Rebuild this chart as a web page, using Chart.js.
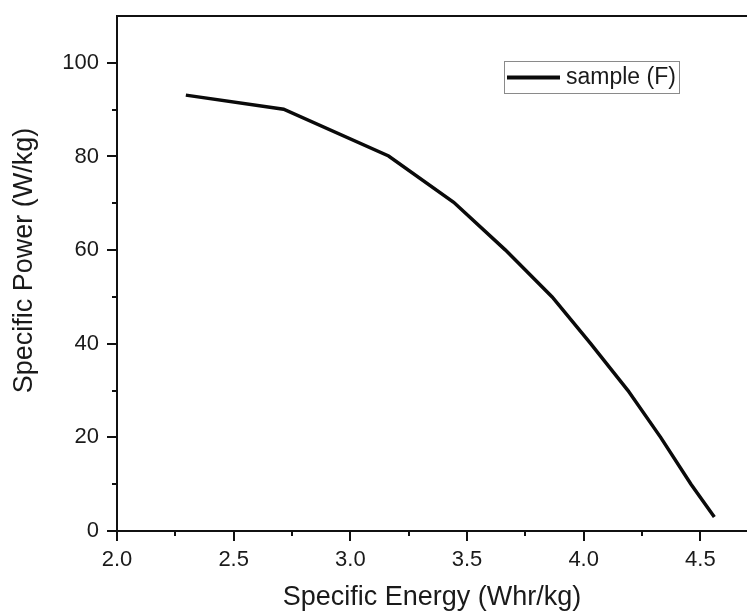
<!DOCTYPE html>
<html>
<head>
<meta charset="utf-8">
<script src="https://cdn.jsdelivr.net/npm/chart.js@4/dist/chart.umd.min.js"></script>
<style>
  html, body { margin: 0; padding: 0; background: #fff; }
  #wrap { width: 747px; height: 612px; position: relative; }
</style>
</head>
<body>
<div id="wrap"><canvas id="c" width="747" height="612"></canvas></div>
<script>
// ---- data ----
const seriesLabel = "sample (F)";
const energy = [2.295, 2.714, 3.164, 3.443, 3.665, 3.865, 4.03, 4.19, 4.33, 4.46, 4.56];
const power  = [93.1, 90.1, 80.1, 70.2, 60.0, 50.0, 40.0, 30.0, 20.0, 10.0, 3.0];
const xMajorTicks = [2.0, 2.5, 3.0, 3.5, 4.0, 4.5];
const xMinorTicks = [2.25, 2.75, 3.25, 3.75, 4.25];
const yMajorTicks = [0, 20, 40, 60, 80, 100];
const yMinorTicks = [10, 30, 50, 70, 90];
const xTitle = "Specific Energy (Whr/kg)";
const yTitle = "Specific Power (W/kg)";

const FONT = "'Liberation Sans', Arial, sans-serif";
const INK = "#1a1a1a";

const points = energy.map((e, i) => ({ x: e, y: power[i] }));

const frameTicks = {
  id: 'frameTicks',
  afterDraw(chart) {
    const { ctx, chartArea: a } = chart;
    const xs = chart.scales.x, ys = chart.scales.y;
    ctx.save();
    ctx.strokeStyle = '#111';
    ctx.lineWidth = 2;
    ctx.lineCap = 'butt';
    // top frame line
    ctx.beginPath();
    ctx.moveTo(a.left - 1, a.top);
    ctx.lineTo(a.right, a.top);
    ctx.stroke();
    // x ticks (outward, below)
    const drawX = (v, len) => {
      const px = Math.round(xs.getPixelForValue(v));
      ctx.beginPath(); ctx.moveTo(px, a.bottom); ctx.lineTo(px, a.bottom + len); ctx.stroke();
    };
    xMajorTicks.forEach(v => drawX(v, 10));
    xMinorTicks.forEach(v => drawX(v, 5));
    const drawY = (v, len) => {
      const py = Math.round(ys.getPixelForValue(v));
      ctx.beginPath(); ctx.moveTo(a.left, py); ctx.lineTo(a.left - len, py); ctx.stroke();
    };
    yMajorTicks.forEach(v => drawY(v, 10));
    yMinorTicks.forEach(v => drawY(v, 5));

    // y axis title (rotated), slightly above the axis centre as in the reference
    ctx.save();
    ctx.fillStyle = INK;
    ctx.font = "27px " + FONT;
    ctx.textAlign = 'center';
    ctx.textBaseline = 'middle';
    ctx.translate(a.left - 92, (a.top + a.bottom) / 2 - 13);
    ctx.rotate(-Math.PI / 2);
    ctx.fillText(yTitle, 0, 0);
    ctx.restore();

    // legend box
    const lx = a.right - 243, ly = a.top + 45, lw = 175, lh = 32;
    ctx.strokeStyle = '#8a8a8a';
    ctx.lineWidth = 1;
    ctx.strokeRect(lx + 0.5, ly + 0.5, lw, lh);
    const ds = chart.data.datasets[0];
    ctx.strokeStyle = ds.borderColor;
    ctx.lineWidth = 4;
    ctx.beginPath();
    ctx.moveTo(lx + 3, ly + 16.5);
    ctx.lineTo(lx + 56, ly + 16.5);
    ctx.stroke();
    ctx.fillStyle = INK;
    ctx.font = "23px " + FONT;
    ctx.textBaseline = 'middle';
    ctx.textAlign = 'left';
    ctx.fillText(ds.label, lx + 62, ly + 17);
    ctx.restore();
  }
};

new Chart(document.getElementById('c'), {
  type: 'line',
  data: {
    datasets: [{
      label: seriesLabel,
      data: points,
      borderColor: '#0a0a0a',
      borderWidth: 3.5,
      pointRadius: 0,
      tension: 0,
      fill: false
    }]
  },
  options: {
    responsive: false,
    animation: false,
    layout: { padding: { top: 16, right: 0, bottom: 0, left: 0 } },
    plugins: { legend: { display: false }, tooltip: { enabled: false } },
    scales: {
      x: {
        type: 'linear',
        min: 2.0, max: 4.7,
        afterBuildTicks(s) { s.ticks = xMajorTicks.map(v => ({ value: v })); },
        afterFit(s) { s.height = 81; s.paddingRight = 0; },
        grid: { display: false, drawTicks: false },
        border: { display: true, color: '#111', width: 2 },
        ticks: {
          color: INK, padding: 16,
          font: { family: FONT, size: 22 },
          maxRotation: 0, autoSkip: false,
          callback: v => Number(v).toFixed(1)
        },
        title: {
          display: true, text: xTitle, color: INK,
          font: { family: FONT, size: 27, lineHeight: 1.0 },
          padding: { top: 0, bottom: 1 }
        }
      },
      y: {
        type: 'linear',
        min: 0, max: 110,
        afterBuildTicks(s) { s.ticks = yMajorTicks.map(v => ({ value: v })); },
        afterFit(s) { s.width = 117; s.paddingTop = 0; s.paddingBottom = 0; },
        grid: { display: false, drawTicks: false },
        border: { display: true, color: '#111', width: 2 },
        ticks: {
          color: INK, padding: 18,
          font: { family: FONT, size: 22 },
          autoSkip: false,
          callback: v => String(v)
        },
        title: { display: false, text: yTitle }
      }
    }
  },
  plugins: [frameTicks]
});
</script>
</body>
</html>
